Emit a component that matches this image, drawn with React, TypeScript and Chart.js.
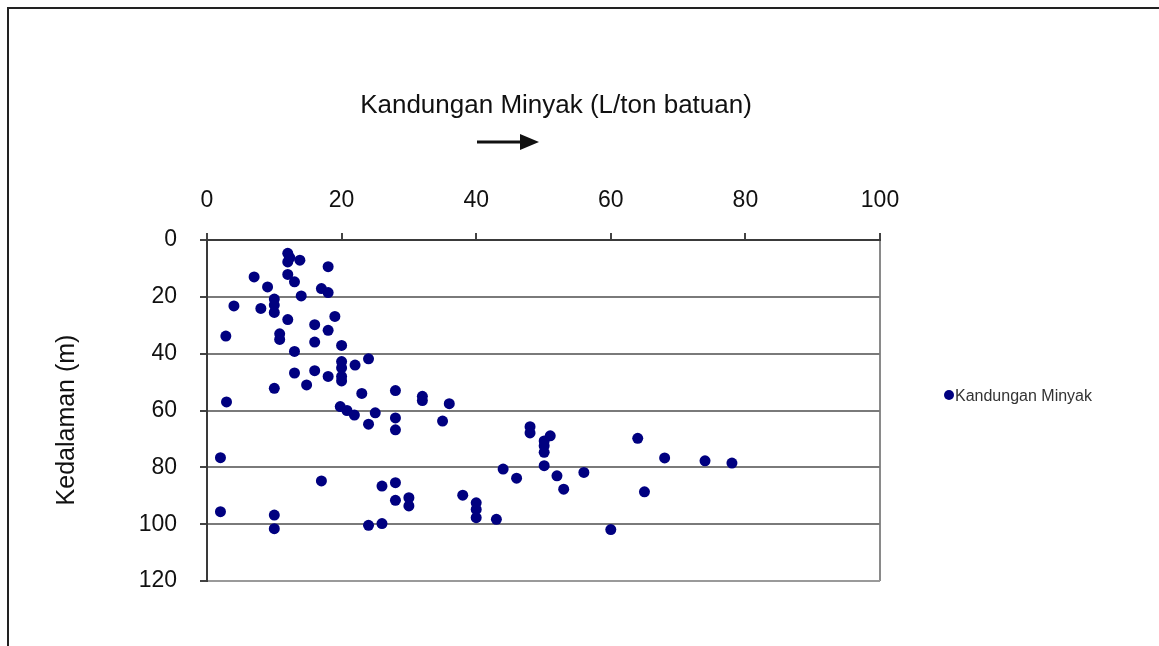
import React, { useEffect, useRef } from 'react';
import { Chart, registerables } from 'chart.js';

Chart.register(...registerables);

const chartTitle = 'Kandungan Minyak (L/ton batuan)';
const yAxisTitle = 'Kedalaman (m)';
const seriesLabel = 'Kandungan Minyak';

const xMin = 0;
const xMax = 100;
const xStep = 20;
const yMin = 0;
const yMax = 120;
const yStep = 20;

// Oil content (L/ton rock) for each sample
const oilContent = [
  12, 12.3, 12, 13.8, 18, 7, 12, 13, 9, 17, 18, 14, 10, 4, 8, 10, 10, 12, 19, 16,
  2.8, 10.8, 10.8, 18, 16, 20, 13, 20, 20, 22, 24, 13, 16, 18, 20, 20, 10, 14.8, 23, 28,
  32, 32, 36, 2.9, 19.8, 20.8, 21.9, 25, 24, 28, 28, 35, 2, 17, 26, 28, 28, 30, 30, 2,
  10, 10, 24, 26, 48, 48, 51, 50.1, 50.1, 50.1, 50.1, 64, 68, 74, 78, 44, 46, 52, 56, 53,
  65, 38, 40, 40, 40, 43, 60,
];

// Depth (m) for each sample
const depth = [
  4.7, 6.2, 7.7, 7.1, 9.4, 13, 12.1, 14.7, 16.5, 17.1, 18.5, 19.7, 20.8, 23.2, 24.1, 22.9, 25.5, 28, 26.9, 29.8,
  33.8, 33, 35, 31.8, 35.9, 37.1, 39.2, 42.8, 45, 44, 41.8, 46.8, 46, 48, 48, 49.6, 52.2, 51, 54, 53,
  55, 56.5, 57.6, 57, 58.6, 60, 61.6, 60.8, 64.8, 62.6, 66.8, 63.7, 76.6, 84.8, 86.6, 85.4, 91.6, 90.7, 93.6, 95.6,
  96.8, 101.6, 100.4, 99.8, 65.7, 67.9, 68.9, 70.7, 72.4, 74.7, 79.4, 69.8, 76.7, 77.7, 78.5, 80.6, 83.8, 83, 81.8, 87.7,
  88.6, 89.8, 92.5, 94.8, 97.7, 98.3, 101.9,
];

const FONT = '"Liberation Sans", Arial, Helvetica, sans-serif';
const MARKER = '#000080';

const overlayPlugin = {
  id: 'overlay',
  beforeDraw(chart: any) {
    const { ctx, width, height } = chart;
    ctx.save();
    ctx.fillStyle = '#ffffff';
    ctx.fillRect(0, 0, width, height);
    // outer frame (top and left edges visible)
    ctx.strokeStyle = '#222222';
    ctx.lineWidth = 2;
    ctx.beginPath();
    ctx.moveTo(8, height);
    ctx.lineTo(8, 8);
    ctx.lineTo(width, 8);
    ctx.stroke();
    ctx.restore();
  },
  afterDraw(chart: any) {
    const { ctx } = chart;
    ctx.save();
    // main title
    ctx.fillStyle = '#111111';
    ctx.font = `26px ${FONT}`;
    ctx.textAlign = 'center';
    ctx.textBaseline = 'alphabetic';
    ctx.fillText(chartTitle, 556, 113);

    // arrow
    ctx.strokeStyle = '#111111';
    ctx.lineWidth = 3;
    ctx.beginPath();
    ctx.moveTo(477, 142);
    ctx.lineTo(522, 142);
    ctx.stroke();
    ctx.fillStyle = '#111111';
    ctx.beginPath();
    ctx.moveTo(520, 134);
    ctx.lineTo(539, 142);
    ctx.lineTo(520, 150);
    ctx.closePath();
    ctx.fill();

    // y axis title
    ctx.save();
    ctx.translate(74, 420);
    ctx.rotate(-Math.PI / 2);
    ctx.font = `25px ${FONT}`;
    ctx.textAlign = 'center';
    ctx.textBaseline = 'alphabetic';
    ctx.fillStyle = '#111111';
    ctx.fillText(yAxisTitle, 0, 0);
    ctx.restore();

    // legend
    const ds = chart.data.datasets[0];
    ctx.fillStyle = ds.backgroundColor;
    ctx.beginPath();
    ctx.arc(949, 395, 5, 0, Math.PI * 2);
    ctx.fill();
    ctx.fillStyle = '#333333';
    ctx.font = `16px ${FONT}`;
    ctx.textAlign = 'left';
    ctx.textBaseline = 'alphabetic';
    ctx.fillText(ds.label, 955, 401);
    ctx.restore();
  },
};

export default function App() {
  const canvasRef = useRef<HTMLCanvasElement | null>(null);

  useEffect(() => {
    const canvas = canvasRef.current;
    if (!canvas) return;
    const points = oilContent.map((x, i) => ({ x, y: depth[i] }));
    const chart = new Chart(canvas, {
      type: 'scatter',
      data: {
        datasets: [
          {
            label: seriesLabel,
            data: points,
            backgroundColor: MARKER,
            borderColor: MARKER,
            borderWidth: 0,
            pointRadius: 5.5,
            pointHoverRadius: 5.5,
          },
        ],
      },
      options: {
        responsive: false,
        animation: false,
        devicePixelRatio: 1,
        layout: { padding: { left: 0, top: 0, right: 279, bottom: 65 } },
        plugins: {
          legend: { display: false },
          title: { display: false },
          tooltip: { enabled: false },
        },
        scales: {
          x: {
            type: 'linear',
            position: 'top',
            min: xMin,
            max: xMax,
            ticks: {
              stepSize: xStep,
              color: '#111111',
              font: { family: FONT, size: 23 },
              padding: 19,
            },
            grid: {
              color: (c: any) => (c.tick && c.tick.value === xMax ? '#8a8a8a' : 'rgba(0,0,0,0)'),
              lineWidth: 2,
              tickColor: '#444444',
              tickLength: 7,
            },
            border: { color: '#3a3a3a', width: 2 },
            afterFit: (s: any) => {
              s.height = 240;
            },
          },
          y: {
            type: 'linear',
            reverse: true,
            min: yMin,
            max: yMax,
            ticks: {
              stepSize: yStep,
              color: '#111111',
              font: { family: FONT, size: 23 },
              padding: 23,
            },
            grid: {
              color: (c: any) => {
                const v = c.tick ? c.tick.value : -1;
                if (v === yMin) return '#3a3a3a';
                if (v === yMax) return '#9a9a9a';
                return '#7a7a7a';
              },
              lineWidth: 2,
              tickColor: '#444444',
              tickLength: 7,
            },
            border: { color: '#3a3a3a', width: 2 },
            afterFit: (s: any) => {
              s.width = 207;
            },
          },
        },
      },
      plugins: [overlayPlugin],
    });
    return () => {
      chart.destroy();
    };
  }, []);

  return (
    <div style={{ position: 'absolute', left: 0, top: 0, width: 1159, height: 646, background: '#fff' }}>
      <canvas ref={canvasRef} width={1159} height={646} style={{ width: 1159, height: 646, display: 'block' }} />
    </div>
  );
}
